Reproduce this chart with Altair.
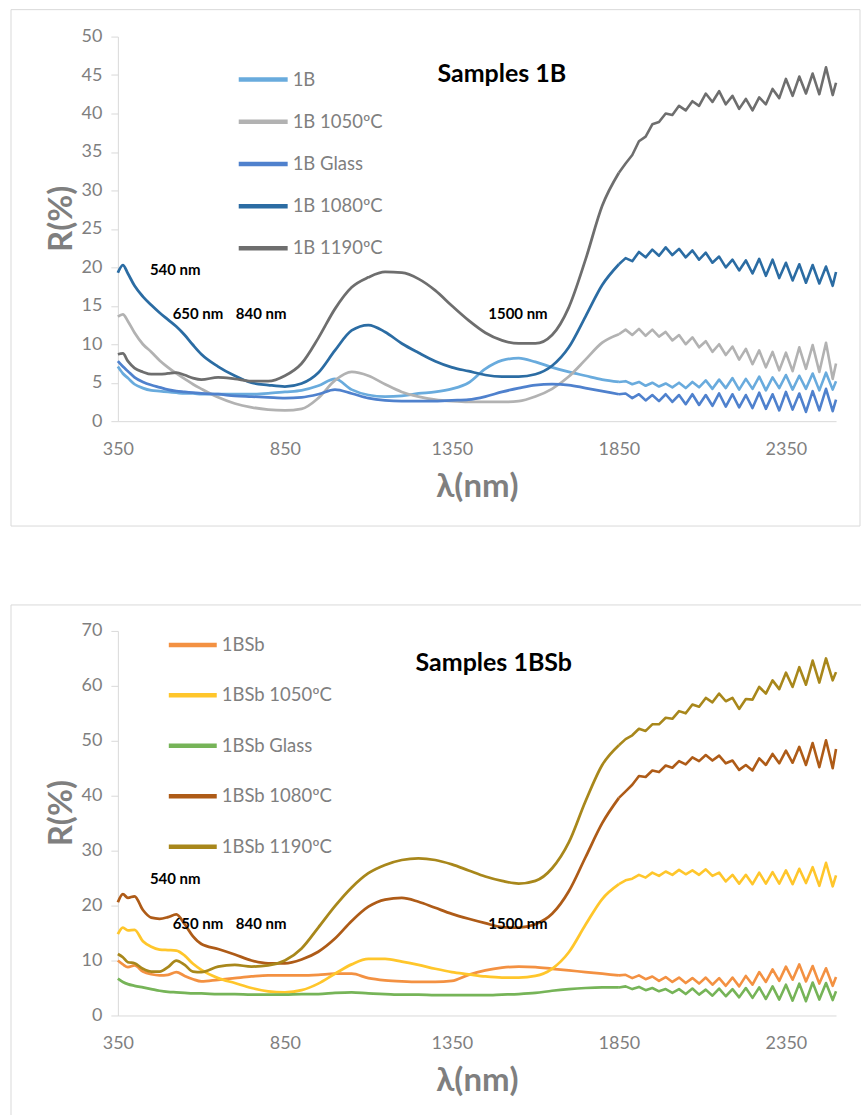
import altair as alt
import pandas as pd

# ---------------- data ----------------
WL_SMOOTH = [350, 365, 380, 400, 425, 450, 475, 500, 525, 550, 575, 600, 650, 700, 750, 800,
             850, 900, 950, 1000, 1050, 1100, 1150, 1200, 1250, 1300, 1350, 1400, 1450, 1500,
             1550, 1600, 1650, 1700, 1750, 1800, 1850]
WL_NOISY = [1870, 1890, 1910, 1930, 1950, 1970, 1990, 2010, 2030, 2050, 2070, 2090, 2110, 2130,
            2150, 2170, 2190, 2210, 2230, 2250, 2270, 2290, 2310, 2330, 2350, 2370, 2390, 2410,
            2430, 2450, 2470, 2490, 2500]
WL = WL_SMOOTH + WL_NOISY
NOISE_START = 1850

NAMES_1B = ["1B", "1B 1050ºC", "1B Glass", "1B 1080ºC", "1B 1190ºC"]
COLORS_1B = ["#69abdd", "#b2b2b2", "#4f81cd", "#2b6ca3", "#6e6e6e"]

R_1B = [7.1, 6.2, 5.6, 4.8, 4.3, 4.0, 3.9, 3.8, 3.7, 3.6, 3.6, 3.5, 3.5, 3.5, 3.5, 3.6, 3.8, 4.0,
        4.6, 5.5, 4.1, 3.4, 3.2, 3.3, 3.6, 3.8, 4.2, 5.0, 6.8, 7.9, 8.2, 7.7, 7.0, 6.4, 5.9, 5.4, 5.1,
        5.2, 4.8, 5.1, 4.6, 5.0, 4.5, 4.9, 4.4, 5.0, 4.3, 5.1, 4.4, 5.3, 4.2, 5.4, 4.3, 5.6, 4.1,
        5.5, 4.2, 5.8, 4.0, 5.7, 4.3, 6.0, 4.1, 5.9, 4.2, 6.2, 4.0, 6.3, 4.1, 5.2]
R_1B_1050 = [13.6, 13.9, 13.0, 11.5, 10.0, 9.0, 7.9, 7.0, 6.2, 5.5, 4.8, 4.2, 3.1, 2.3, 1.8, 1.5,
             1.4, 1.6, 3.0, 5.3, 6.4, 5.9, 4.8, 3.8, 3.2, 2.8, 2.6, 2.5, 2.5, 2.5, 2.6, 3.2, 4.2,
             5.8, 8.0, 10.2, 11.3,
             11.9, 11.2, 12.0, 11.1, 11.9, 11.0, 11.6, 10.5, 11.2, 10.0, 10.9, 9.6, 10.4, 9.0,
             10.0, 8.6, 9.7, 8.0, 9.4, 7.4, 9.2, 7.0, 9.0, 6.6, 8.9, 6.5, 9.6, 6.8, 9.9, 6.4,
             10.2, 5.5, 7.5]
R_1B_GLASS = [7.8, 7.1, 6.5, 5.7, 5.1, 4.7, 4.4, 4.1, 3.9, 3.8, 3.7, 3.6, 3.5, 3.3, 3.2, 3.1,
              3.0, 3.1, 3.5, 4.1, 3.6, 3.0, 2.7, 2.6, 2.6, 2.6, 2.7, 2.8, 3.2, 3.8, 4.3, 4.7, 4.8,
              4.7, 4.3, 3.9, 3.5,
              3.6, 3.0, 3.5, 2.7, 3.4, 2.6, 3.5, 2.5, 3.4, 2.2, 3.5, 2.1, 3.4, 2.0, 3.6, 1.9,
              3.5, 1.8, 3.4, 1.7, 3.7, 1.6, 3.5, 1.4, 3.8, 1.5, 3.6, 1.2, 3.9, 1.4, 4.2, 1.3, 2.8]
R_1B_1080 = [19.3, 20.3, 19.2, 17.6, 16.2, 15.1, 14.1, 13.2, 12.3, 11.2, 9.9, 8.7, 7.1, 5.9, 5.0,
             4.7, 4.5, 4.9, 6.3, 9.2, 11.8, 12.5, 11.6, 10.1, 8.9, 7.8, 7.0, 6.5, 6.0, 5.8, 5.8,
             6.1, 7.2, 9.6, 13.6, 17.7, 20.4,
             21.2, 20.8, 22.0, 21.3, 22.3, 21.5, 22.6, 21.6, 22.4, 21.3, 22.2, 21.0, 21.9, 20.6,
             21.4, 20.0, 21.0, 19.6, 20.9, 19.2, 21.1, 18.9, 21.0, 18.6, 20.6, 18.3, 20.4, 18.0,
             20.3, 17.9, 20.1, 17.6, 19.4]
R_1B_1190 = [8.7, 8.8, 7.8, 6.9, 6.4, 6.1, 6.1, 6.2, 6.3, 6.0, 5.6, 5.4, 5.7, 5.5, 5.2, 5.2, 5.9,
             7.5, 10.8, 14.6, 17.4, 18.7, 19.4, 19.3, 18.5, 17.0, 15.0, 13.1, 11.5, 10.5, 10.1,
             10.1, 11.2, 14.8, 21.0, 28.0, 32.3,
             33.5, 34.6, 36.4, 37.0, 38.6, 38.9, 40.0, 39.8, 41.0, 40.4, 41.6, 41.0, 42.6, 41.5,
             42.9, 41.2, 42.3, 40.6, 41.9, 40.4, 42.1, 41.2, 43.2, 42.0, 44.5, 42.3, 44.8, 42.6,
             45.2, 42.5, 46.0, 42.4, 44.0]

NAMES_1BSB = ["1BSb", "1BSb 1050ºC", "1BSb Glass", "1BSb 1080ºC", "1BSb 1190ºC"]
COLORS_1BSB = ["#f39142", "#ffc62b", "#76b458", "#ae5b17", "#a8871b"]

R_1BSB = [10.0, 9.3, 8.8, 9.1, 8.0, 7.5, 7.3, 7.4, 7.9, 7.2, 6.6, 6.2, 6.5, 6.8, 7.1, 7.3, 7.3,
          7.3, 7.4, 7.6, 7.6, 6.8, 6.4, 6.2, 6.1, 6.1, 6.3, 7.4, 8.2, 8.7, 8.9, 8.8, 8.5, 8.2, 7.9,
          7.6, 7.3,
          7.4, 6.8, 7.3, 6.6, 7.1, 6.3, 7.0, 6.1, 6.9, 5.9, 6.8, 5.8, 6.9, 5.6, 6.8, 5.4, 6.9,
          5.3, 7.2, 5.6, 7.9, 6.1, 8.4, 6.3, 8.9, 6.5, 9.3, 6.2, 9.0, 5.8, 8.6, 5.4, 7.0]
R_1BSB_1050 = [14.8, 16.0, 15.5, 15.6, 13.5, 12.5, 12.0, 11.9, 11.8, 10.9, 9.4, 8.3, 6.8, 5.9,
               5.0, 4.4, 4.2, 4.6, 5.8, 7.6, 9.3, 10.3, 10.3, 9.8, 9.2, 8.5, 7.9, 7.5, 7.1, 6.9,
               6.9, 7.2, 8.5, 11.5, 16.5, 21.2, 23.9,
               24.6, 24.9, 25.6, 25.1, 26.0, 25.4, 26.2, 25.6, 26.5, 25.7, 26.4, 25.6, 26.6,
               25.4, 26.0, 24.4, 25.6, 24.0, 25.6, 23.9, 26.0, 24.0, 26.1, 24.0, 26.4, 23.9,
               26.7, 24.1, 27.0, 23.6, 27.8, 23.5, 25.5]
R_1BSB_GLASS = [6.7, 6.1, 5.7, 5.4, 5.1, 4.8, 4.5, 4.3, 4.2, 4.1, 4.0, 4.0, 3.9, 3.9, 3.8, 3.8,
                3.8, 3.9, 3.9, 4.1, 4.2, 4.0, 3.9, 3.8, 3.8, 3.7, 3.7, 3.7, 3.7, 3.8, 3.9, 4.1,
                4.5, 4.8, 5.0, 5.1, 5.1,
                5.3, 4.8, 5.2, 4.6, 5.0, 4.4, 4.8, 4.1, 4.8, 3.9, 4.9, 3.8, 4.7, 3.6, 4.9, 3.5,
                4.8, 3.3, 5.0, 3.2, 5.1, 3.0, 5.3, 2.9, 5.6, 2.7, 5.8, 2.6, 6.0, 2.9, 5.9, 2.8, 4.4]
R_1BSB_1080 = [20.6, 22.1, 21.4, 21.7, 19.2, 17.8, 17.6, 17.9, 18.4, 16.6, 14.4, 13.0, 12.1,
               11.1, 10.0, 9.5, 9.5, 10.2, 11.6, 14.0, 17.2, 19.8, 21.1, 21.4, 20.7, 19.6, 18.5,
               17.6, 16.8, 16.1, 16.0, 16.6, 18.5, 22.6, 28.8, 35.0, 39.6,
               40.8, 42.0, 43.6, 43.4, 44.6, 44.3, 45.5, 45.1, 46.3, 45.7, 47.0, 46.3, 47.4,
               46.4, 47.3, 45.9, 46.4, 44.7, 45.6, 44.6, 46.8, 45.6, 47.6, 45.9, 48.2, 46.0,
               48.9, 45.6, 49.6, 45.2, 50.1, 45.0, 48.5]
R_1BSB_1190 = [11.2, 10.6, 9.7, 9.5, 8.5, 8.0, 8.0, 8.8, 10.0, 9.2, 8.0, 7.9, 8.9, 9.2, 8.9, 9.1,
               10.0, 12.2, 16.0, 19.9, 23.3, 25.9, 27.4, 28.3, 28.6, 28.3, 27.5, 26.4, 25.3,
               24.5, 24.0, 24.5, 26.8, 31.5, 39.0, 45.6, 49.2,
               50.3, 51.0, 52.2, 51.8, 53.0, 53.0, 54.2, 54.0, 55.4, 55.0, 56.6, 56.2, 57.8,
               57.0, 58.6, 57.2, 57.8, 55.8, 57.6, 57.5, 59.8, 58.6, 61.0, 59.4, 62.4, 59.8,
               63.4, 60.2, 64.6, 60.6, 65.0, 61.0, 62.5]

ANN_LABELS = ["540 nm", "650 nm", "840 nm", "1500 nm"]
ANN_WL = [446, 514, 703, 1459]
ANN_R_1B = [19.6, 13.9, 13.9, 13.9]
ANN_R_1BSB = [24.9, 16.7, 16.7, 16.7]

X_TICKS = [350, 850, 1350, 1850, 2350]

W, H = 719, 385
FONT = "Lato"
GRAY = "#7f7f7f"
LINE = "#d9d9d9"


def long_table(names, series):
    rows = []
    for name, vals in zip(names, series):
        for wl, r in zip(WL, vals):
            rows.append({"series": name, "wl": wl, "R": r})
    return pd.DataFrame(rows)


def panel(names, colors, series, ymax, ystep, leg_x1, leg_x2, leg_tx, leg_range,
          title, title_x, title_y, ann_r, frame, full_frame):
    df = long_table(names, series)
    xs = alt.Scale(domain=[350, 2500], nice=False, zero=False)
    ys = alt.Scale(domain=[0, ymax], nice=False, zero=True)
    color = alt.Color("series:N", scale=alt.Scale(domain=names, range=colors), legend=None)

    fx1, fx2, fy1, fy2 = frame
    one = pd.DataFrame({"f": [0]})
    if full_frame:
        frame_layers = [alt.Chart(one).mark_rect(fillOpacity=0, stroke=LINE, strokeWidth=1).encode(
            x=alt.value(fx1), x2=alt.value(fx2), y=alt.value(fy1), y2=alt.value(fy2))]
    else:
        frame_layers = [
            alt.Chart(one).mark_rule(color=LINE, strokeWidth=1).encode(
                x=alt.value(fx1), y=alt.value(fy1), y2=alt.value(fy2)),
            alt.Chart(one).mark_rule(color=LINE, strokeWidth=1).encode(
                x=alt.value(fx1), x2=alt.value(fx2), y=alt.value(fy1)),
        ]

    x_enc = alt.X("wl:Q", scale=xs, axis=alt.Axis(
        values=X_TICKS, format="d", title="λ(nm)", ticks=False, grid=False,
        domainColor=LINE, labelPadding=19, titlePadding=12, labelFlush=False,
        labelOverlap=False))
    y_enc = alt.Y("R:Q", scale=ys, axis=alt.Axis(
        values=list(range(0, ymax + 1, ystep)), title="R(%)", tickSize=7, tickColor=LINE,
        domainColor=LINE, labelPadding=9, grid=False, titleX=-56, titleY=182,
        titleAlign="center", titleBaseline="middle"))

    base = alt.Chart(df).encode(x=x_enc, y=y_enc, color=color)
    smooth = base.transform_filter(alt.datum.wl <= NOISE_START).mark_line(
        strokeWidth=2.75, interpolate="monotone")
    noisy = base.transform_filter(alt.datum.wl >= NOISE_START).mark_line(
        strokeWidth=2.6, interpolate="linear", strokeJoin="round")
    lines = alt.layer(smooth, noisy)

    ann_df = pd.DataFrame({"label": ANN_LABELS, "wl": ANN_WL, "R": ann_r})
    ann = alt.Chart(ann_df).mark_text(
        align="left", baseline="middle", font=FONT, fontSize=15, fontWeight="bold", color="black"
    ).encode(x=alt.X("wl:Q", scale=xs), y=alt.Y("R:Q", scale=ys, axis=None), text="label:N")

    leg_df = pd.DataFrame({"series": names, "idx": list(range(len(names)))})
    leg_y = alt.Y("idx:O", scale=alt.Scale(type="point", range=leg_range, padding=0), axis=None)
    leg_rule = alt.Chart(leg_df).mark_rule(strokeWidth=4.5).encode(
        x=alt.value(leg_x1), x2=alt.value(leg_x2), y=leg_y, color=color)
    leg_text = alt.Chart(leg_df).mark_text(
        align="left", baseline="middle", font=FONT, fontSize=18.5, color=GRAY
    ).encode(x=alt.value(leg_tx), y=leg_y, text="series:N")

    ttl = alt.Chart(pd.DataFrame({"t": [title]})).mark_text(
        align="left", baseline="middle", font=FONT, fontSize=25, fontWeight="bold", color="black"
    ).encode(x=alt.value(title_x), y=alt.value(title_y), text="t:N")

    return alt.layer(*frame_layers, lines, ann, leg_rule, leg_text, ttl).resolve_scale(
        y="independent").properties(width=W, height=H)


top = panel(NAMES_1B, COLORS_1B,
            [R_1B, R_1B_1050, R_1B_GLASS, R_1B_1080, R_1B_1190],
            50, 5, 121, 170, 175, [43, 212], "Samples 1B", 320, 37, ANN_R_1B,
            (-107, 743, -27, 490), True)
bottom = panel(NAMES_1BSB, COLORS_1BSB,
               [R_1BSB, R_1BSB_1050, R_1BSB_GLASS, R_1BSB_1080, R_1BSB_1190],
               70, 10, 51, 99, 104, [14, 216], "Samples 1BSb", 298, 32, ANN_R_1BSB,
               (-107, 744, -26, 486), False)

chart = alt.vconcat(top, bottom, spacing=77).resolve_scale(color="independent").properties(
    padding={"left": 10, "top": 8, "right": 0, "bottom": 0}
).configure_view(stroke=None).configure_axis(
    labelFont=FONT, labelFontSize=18, labelColor=GRAY,
    titleFont=FONT, titleFontSize=33, titleFontWeight="bold", titleColor=GRAY,
)

chart.save("out.html", embed_options={"renderer": "svg", "actions": False})
